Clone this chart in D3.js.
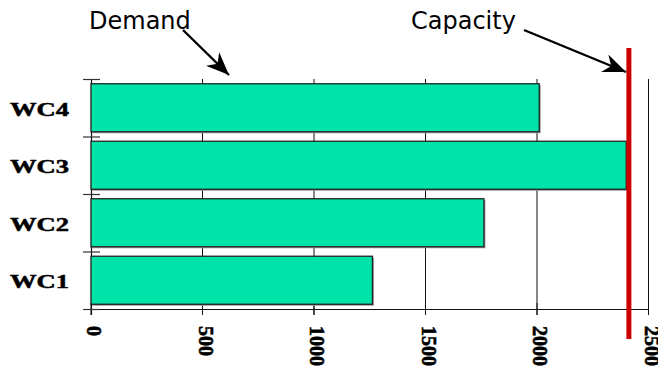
<!DOCTYPE html>
<html>
<head>
<meta charset="utf-8">
<script src="https://cdn.jsdelivr.net/npm/d3@7/dist/d3.min.js"></script>
<style>
  html, body { margin: 0; padding: 0; background: #fff; }
  svg { display: block; }
</style>
</head>
<body>
<svg id="chart" width="658" height="370"></svg>
<script>
// Work-centre load versus capacity
const categories = ["WC1", "WC2", "WC3", "WC4"];
const demand = [1262, 1762, 2400, 2010];
const capacity = 2412;
const tickValues = [0, 500, 1000, 1500, 2000, 2500];
const annotations = ["Demand", "Capacity"];

const svg = d3.select("#chart");

const x = d3.scaleLinear().domain([0, 2500]).range([91, 648.5]);
const y = d3.scaleBand().domain(categories).range([309, 79])
  .paddingInner(0.165).paddingOuter(0.0825);
const yBands = d3.scaleBand().domain(categories).range([309, 79]);

// vertical gridlines
svg.append("g").selectAll("line").data(tickValues.slice(1)).join("line")
  .attr("x1", d => x(d)).attr("x2", d => x(d))
  .attr("y1", 79).attr("y2", 315)
  .attr("stroke", "#111").attr("stroke-width", 1);

// bottom axis: line, ticks, rotated labels
const xAxis = svg.append("g");
xAxis.append("line").attr("x1", 83).attr("x2", x(2500))
  .attr("y1", 309.5).attr("y2", 309.5).attr("stroke", "#111").attr("stroke-width", 1.2);
xAxis.selectAll("line.tick").data(tickValues).join("line").attr("class", "tick")
  .attr("x1", d => x(d)).attr("x2", d => x(d))
  .attr("y1", 303).attr("y2", 315).attr("stroke", "#111");
xAxis.selectAll("text").data(tickValues).join("text")
  .attr("transform", d => `translate(${x(d)},326) rotate(90)`)
  .attr("dy", 4)
  .attr("font-family", "'Liberation Serif', 'Times New Roman', serif")
  .attr("font-weight", "bold").attr("font-size", 20)
  .attr("stroke", "#000").attr("stroke-width", 0.6)
  .text(d => d);

// left axis line and band separators
const yAxis = svg.append("g");
yAxis.append("line").attr("x1", 91.5).attr("x2", 91.5).attr("y1", 79).attr("y2", 315)
  .attr("stroke", "#111").attr("stroke-width", 1.2);
const bounds = categories.map(c => yBands(c)).concat([yBands("WC1") + yBands.bandwidth()]);
yAxis.selectAll("line.sep").data(bounds).join("line").attr("class", "sep")
  .attr("x1", 83).attr("x2", 100)
  .attr("y1", d => d + 0.5).attr("y2", d => d + 0.5)
  .attr("stroke", "#333").attr("stroke-width", 1.2);
yAxis.selectAll("text").data(categories).join("text")
  .attr("x", 10).attr("y", d => yBands(d) + yBands.bandwidth() / 2 + 8)
  .attr("font-family", "'Liberation Serif', 'Times New Roman', serif")
  .attr("font-weight", "bold").attr("font-size", 19)
  .attr("stroke", "#000").attr("stroke-width", 0.5)
  .attr("textLength", 59).attr("lengthAdjust", "spacingAndGlyphs")
  .text(d => d);

// bars with a soft drop edge
const bars = svg.append("g");
bars.selectAll("rect.shadow").data(categories).join("rect").attr("class", "shadow")
  .attr("x", x(0) + 1.5).attr("y", d => y(d) + 1.5)
  .attr("width", (d, i) => x(demand[i]) - x(0)).attr("height", y.bandwidth())
  .attr("fill", "#999");
bars.selectAll("rect.bar").data(categories).join("rect").attr("class", "bar")
  .attr("x", x(0)).attr("y", d => y(d))
  .attr("width", (d, i) => x(demand[i]) - x(0)).attr("height", y.bandwidth())
  .attr("fill", "#00E4AA").attr("stroke", "#222").attr("stroke-width", 1.3);

// capacity line
svg.append("line")
  .attr("x1", x(capacity)).attr("x2", x(capacity))
  .attr("y1", 48).attr("y2", 339)
  .attr("stroke", "#CC0000").attr("stroke-width", 5);

// annotations with arrows
const defs = svg.append("defs");
defs.append("marker").attr("id", "head")
  .attr("viewBox", "0 0 23 19").attr("refX", 23).attr("refY", 9.5)
  .attr("markerWidth", 23).attr("markerHeight", 19).attr("markerUnits", "userSpaceOnUse")
  .attr("orient", "auto")
  .append("path").attr("d", "M0,0 L23,9.5 L0,19 L7,9.5 Z").attr("fill", "#000");

const notes = svg.append("g")
  .attr("font-family", "'DejaVu Sans', Verdana, sans-serif").attr("font-size", 24);
notes.append("text").attr("x", 89).attr("y", 29).text(annotations[0]);
notes.append("text").attr("x", 411).attr("y", 28.5).text(annotations[1]);

notes.append("line").attr("x1", 183).attr("y1", 30).attr("x2", 229).attr("y2", 75)
  .attr("stroke", "#000").attr("stroke-width", 2.4).attr("marker-end", "url(#head)");
notes.append("line").attr("x1", 524).attr("y1", 30).attr("x2", 626).attr("y2", 72)
  .attr("stroke", "#000").attr("stroke-width", 2.4).attr("marker-end", "url(#head)");
</script>
</body>
</html>
